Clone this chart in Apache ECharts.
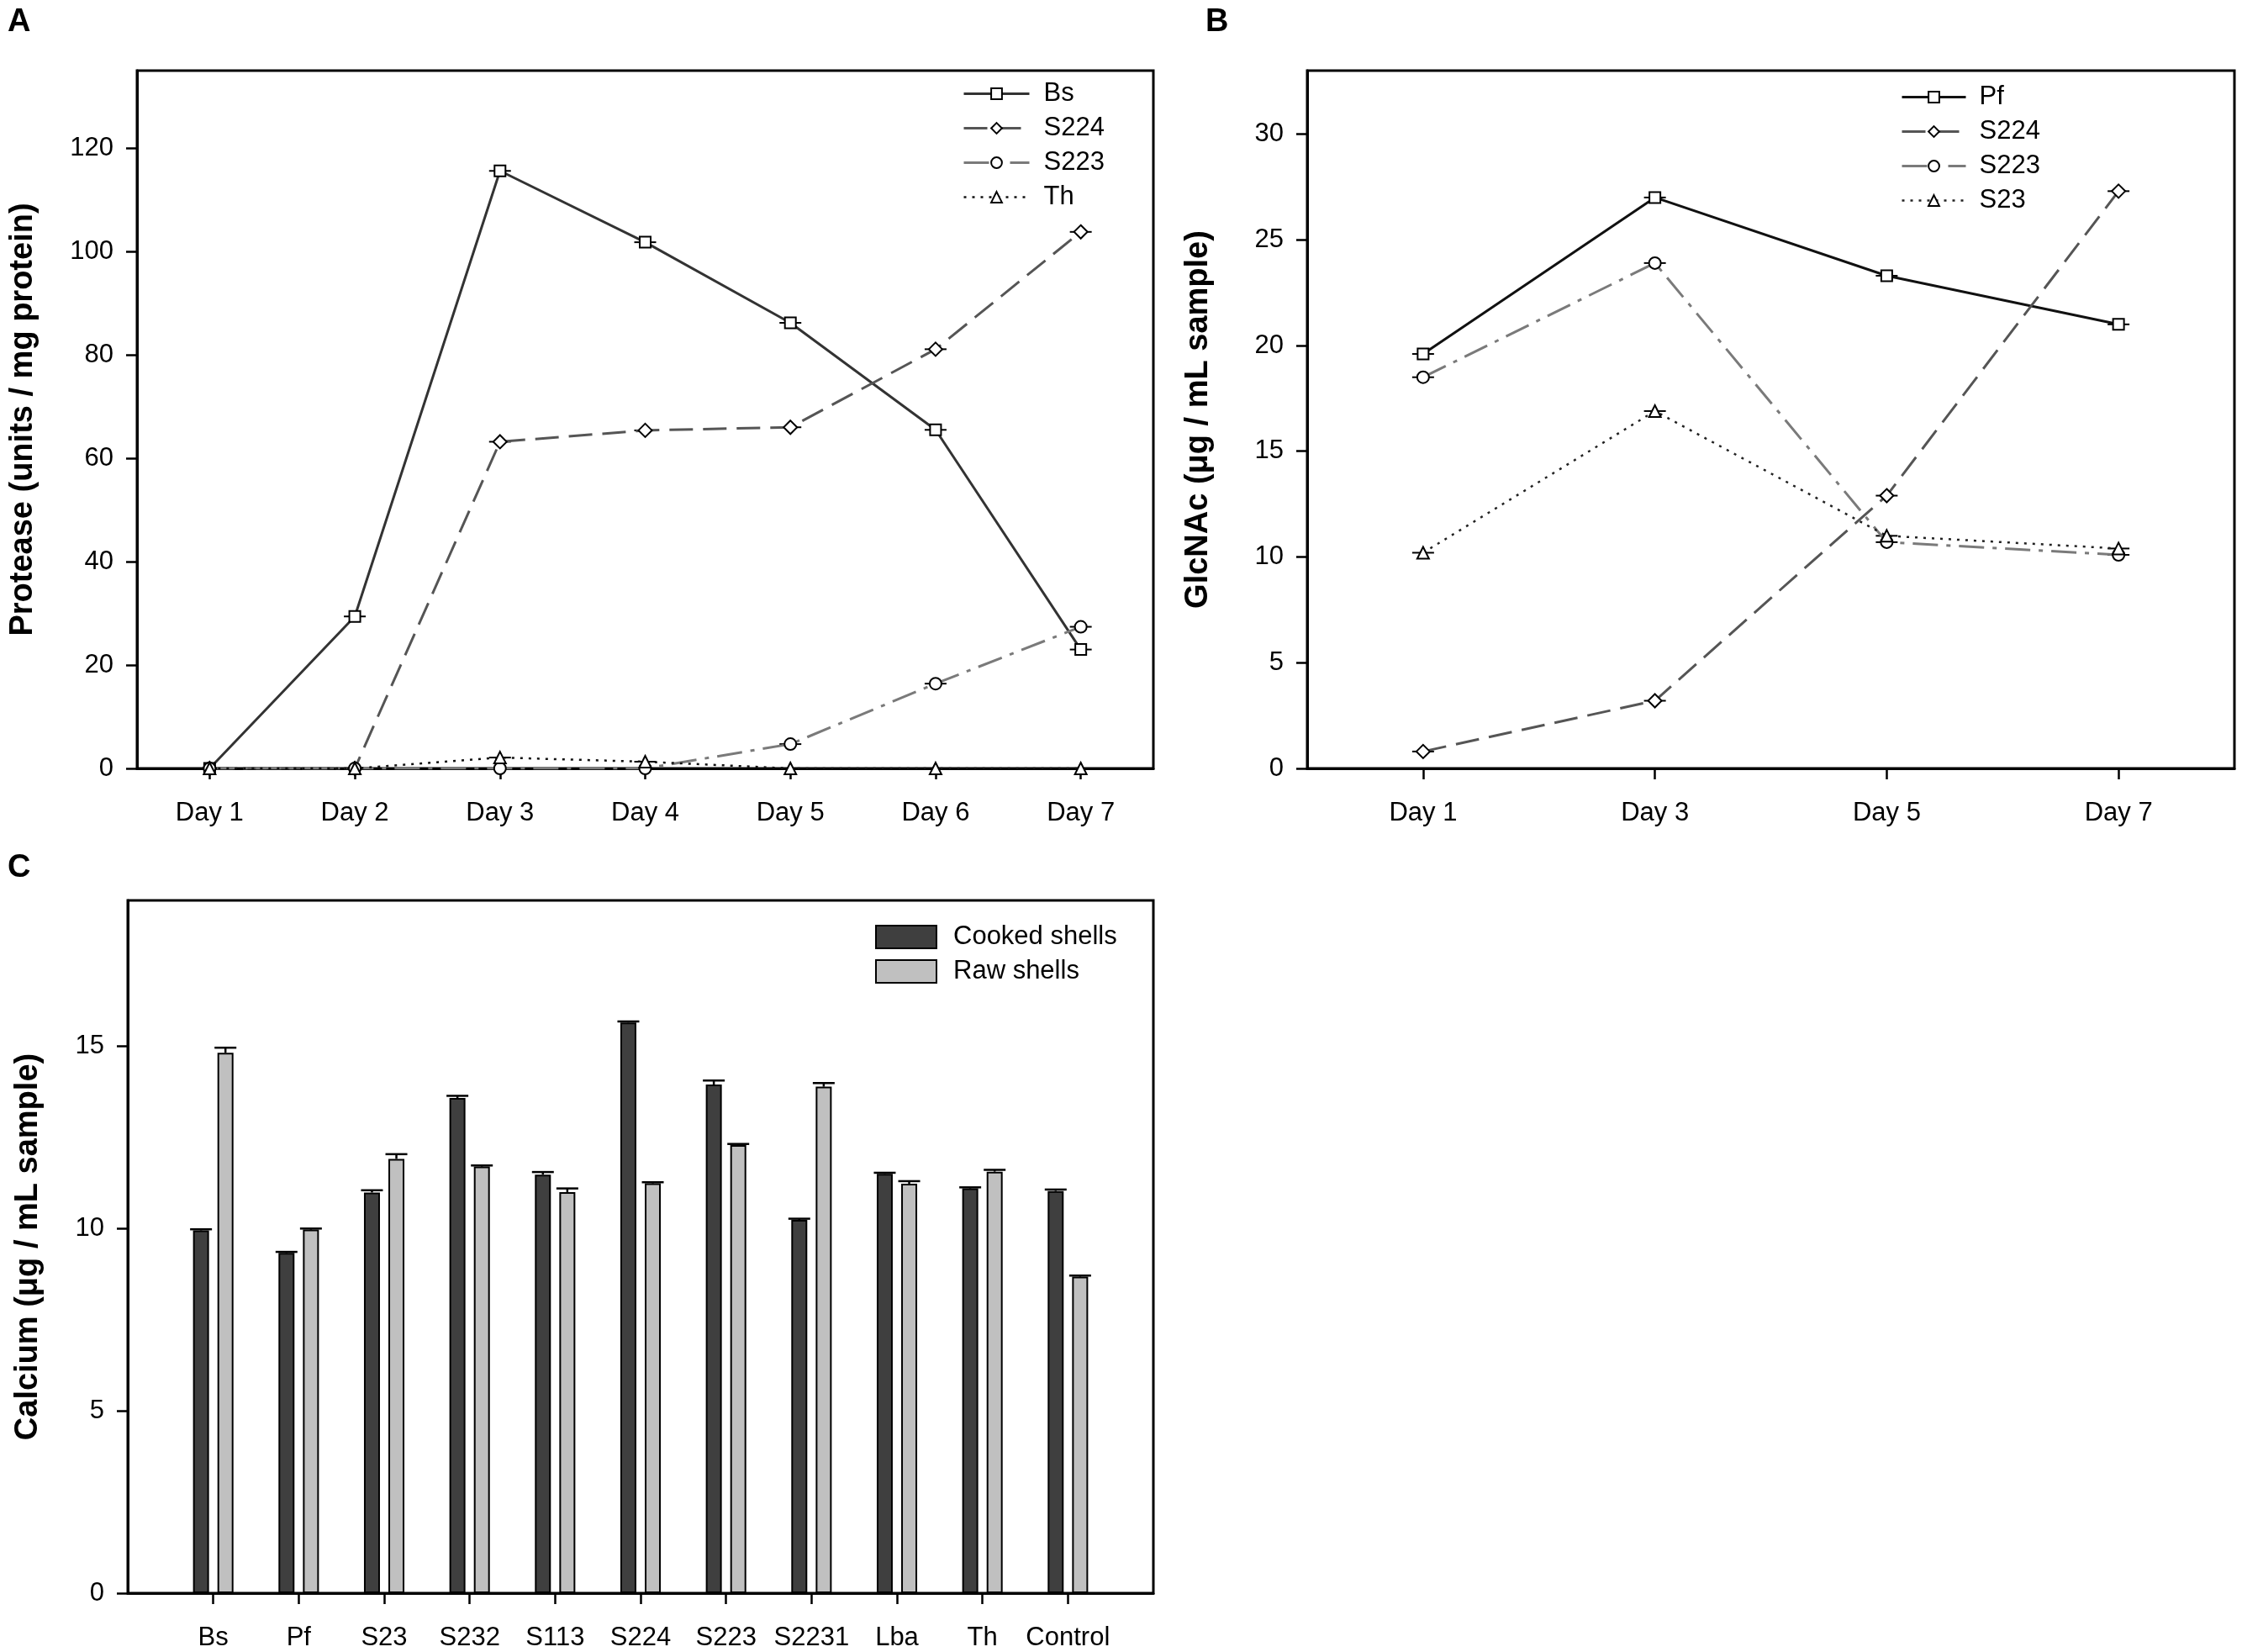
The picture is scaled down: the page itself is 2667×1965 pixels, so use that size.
<!DOCTYPE html>
<html>
<head>
<meta charset="utf-8">
<script src="https://cdn.jsdelivr.net/npm/echarts@6/dist/echarts.min.js"></script>
<style>
  html, body { margin: 0; padding: 0; background: #fff; }
  #chart { width: 2667px; height: 1965px; }
</style>
</head>
<body>
<div id="chart"></div>
<script>
// Panel A - protease activity
const daysA = ['Day 1', 'Day 2', 'Day 3', 'Day 4', 'Day 5', 'Day 6', 'Day 7'];
const proteaseBs = [0, 29.4, 115.6, 101.8, 86.2, 65.5, 23.0];
const proteaseS224 = [0, 0, 63.2, 65.4, 66.0, 81.1, 103.8];
const proteaseS223 = [0, 0, 0, 0, 4.7, 16.4, 27.4];
const proteaseTh = [0, 0, 2.1, 1.3, 0, 0, 0];
const ticksA = [0, 20, 40, 60, 80, 100, 120];

// Panel B - GlcNAc
const daysB = ['Day 1', 'Day 3', 'Day 5', 'Day 7'];
const glcPf = [19.6, 27.0, 23.3, 21.0];
const glcS224 = [0.8, 3.2, 12.9, 27.3];
const glcS223 = [18.5, 23.9, 10.7, 10.1];
const glcS23 = [10.2, 16.9, 11.0, 10.4];
const ticksB = [0, 5, 10, 15, 20, 25, 30];

// Panel C - calcium
const strains = ['Bs', 'Pf', 'S23', 'S232', 'S113', 'S224', 'S223', 'S2231', 'Lba', 'Th', 'Control'];
const cooked = [9.95, 9.33, 10.99, 13.58, 11.48, 15.65, 13.95, 10.24, 11.50, 11.10, 11.03];
const cookedErr = [0.03, 0.03, 0.06, 0.06, 0.07, 0.03, 0.11, 0.03, 0.03, 0.03, 0.04];
const raw = [14.82, 9.97, 11.91, 11.70, 11.00, 11.24, 12.29, 13.89, 11.23, 11.56, 8.68];
const rawErr = [0.14, 0.03, 0.13, 0.03, 0.10, 0.03, 0.03, 0.10, 0.07, 0.05, 0.03];
const ticksC = [0, 5, 10, 15];

const FONT = '"Liberation Sans", Arial, sans-serif';
const BAR_W = 19;
const BAR_GAP = 0.53;

// strain list padded so the first and last category sit on the frame
const catsC = [''].concat(strains, ['']);
const pad = arr => [null].concat(arr, [null]);

const axisLineStyle = { show: true, lineStyle: { color: '#000', width: 3 } };

function yAxis(gridIndex, max, ticks, name, nameGap) {
  return {
    type: 'value', gridIndex: gridIndex, min: 0, max: max,
    name: name, nameLocation: 'middle', nameGap: nameGap, nameRotate: 90,
    nameTextStyle: { fontFamily: FONT, fontSize: 38, fontWeight: 'bold', color: '#000' },
    axisLine: axisLineStyle,
    axisTick: { show: true, length: 13, lineStyle: { color: '#000', width: 2.5 }, customValues: ticks },
    axisLabel: { fontFamily: FONT, fontSize: 31, color: '#000', margin: 28, customValues: ticks },
    splitLine: { show: false }
  };
}

function xAxis(gridIndex, data) {
  return {
    type: 'category', gridIndex: gridIndex, data: data, boundaryGap: true,
    axisLine: axisLineStyle,
    axisTick: { show: true, alignWithLabel: true, length: 13, lineStyle: { color: '#000', width: 2.5 } },
    axisLabel: { fontFamily: FONT, fontSize: 31, color: '#000', margin: 38, interval: 0 },
    splitLine: { show: false }
  };
}

function lineSeries(name, data, axisIndex, symbol, size, type, color, width) {
  return {
    name: name, type: 'line', data: data,
    xAxisIndex: axisIndex, yAxisIndex: axisIndex,
    symbol: symbol, symbolSize: size, showAllSymbol: true,
    lineStyle: { color: color, width: width, type: type },
    itemStyle: { color: '#fff', borderColor: '#000', borderWidth: 2 },
    z: 3, animation: false
  };
}

// small horizontal error caps behind the markers
function capSeries(data, axisIndex) {
  return {
    type: 'custom', xAxisIndex: axisIndex, yAxisIndex: axisIndex, z: 2, silent: true,
    data: data.map((v, i) => [i, v]),
    renderItem: function (params, api) {
      const p = api.coord([api.value(0), api.value(1)]);
      return {
        type: 'line',
        shape: { x1: p[0] - 13, y1: p[1], x2: p[0] + 13, y2: p[1] },
        style: { stroke: '#000', lineWidth: 2 }
      };
    },
    animation: false
  };
}

function barCaps(values, errs, side) {
  const offset = side * BAR_W * (1 + BAR_GAP) / 2;
  return {
    type: 'custom', xAxisIndex: 2, yAxisIndex: 2, z: 4, silent: true,
    data: values.map((v, i) => [i + 1, v, errs[i]]),
    renderItem: function (params, api) {
      const top = api.coord([api.value(0), api.value(1)]);
      const capY = api.coord([api.value(0), api.value(1) + api.value(2)])[1];
      const x = top[0] + offset;
      const st = { stroke: '#000', lineWidth: 2.5 };
      return {
        type: 'group',
        children: [
          { type: 'line', shape: { x1: x, y1: top[1], x2: x, y2: capY }, style: st },
          { type: 'line', shape: { x1: x - 13, y1: capY, x2: x + 13, y2: capY }, style: st }
        ]
      };
    },
    animation: false
  };
}

const DASH = [28, 12];
const DASHDOT = [30, 10, 5, 10];
const DOT = [3, 7];

const legendText = { fontFamily: FONT, fontSize: 31, color: '#000', lineHeight: 31 };

function legendItem(name, type, color, width) {
  return { name: name, lineStyle: { type: type, color: color, width: width } };
}

const option = {
  backgroundColor: '#fff',
  animation: false,
  grid: [
    { left: 163, top: 84, width: 1209, height: 830, show: true, borderColor: '#000', borderWidth: 3, outerBoundsMode: 'none' },
    { left: 1555, top: 84, width: 1103, height: 830, show: true, borderColor: '#000', borderWidth: 3, outerBoundsMode: 'none' },
    { left: 152, top: 1071, width: 1220, height: 824, show: true, borderColor: '#000', borderWidth: 3, outerBoundsMode: 'none' }
  ],
  xAxis: [
    xAxis(0, daysA),
    xAxis(1, daysB),
    Object.assign(xAxis(2, catsC), {
      boundaryGap: false,
      axisTick: {
        show: true, length: 13, lineStyle: { color: '#000', width: 2.5 },
        interval: (i) => i > 0 && i < catsC.length - 1
      }
    })
  ],
  yAxis: [
    yAxis(0, 135, ticksA, 'Protease (units / mg protein)', 116),
    yAxis(1, 33, ticksB, 'GlcNAc (\u03bcg / mL sample)', 110),
    yAxis(2, 19, ticksC, 'Calcium (\u03bcg / mL sample)', 99)
  ],
  legend: [
    {
      data: [
        legendItem('A:Bs', 'solid', '#333', 3),
        legendItem('A:S224', DASH, '#555', 3),
        legendItem('A:S223', DASHDOT, '#7a7a7a', 3),
        legendItem('A:Th', DOT, '#111', 2.5)
      ],
      formatter: n => n.slice(2),
      orient: 'vertical', left: 1140, top: 91, itemWidth: 78, itemHeight: 16, itemGap: 10,
      textStyle: Object.assign({ padding: [0, 0, 0, 12] }, legendText),
      selectedMode: false
    },
    {
      data: [
        legendItem('B:Pf', 'solid', '#111', 3),
        legendItem('B:S224', DASH, '#555', 3),
        legendItem('B:S223', DASHDOT, '#7a7a7a', 3),
        legendItem('B:S23', DOT, '#222', 2.5)
      ],
      formatter: n => n.slice(2),
      orient: 'vertical', left: 2256, top: 95, itemWidth: 76, itemHeight: 16, itemGap: 10,
      textStyle: Object.assign({ padding: [0, 0, 0, 11] }, legendText),
      selectedMode: false
    },
    {
      data: ['Cooked shells', 'Raw shells'],
      orient: 'vertical', left: 1036, top: 1094, itemWidth: 72, itemHeight: 27, itemGap: 10,
      icon: 'rect',
      textStyle: Object.assign({ padding: [0, 0, 0, 15] }, legendText),
      selectedMode: false
    }
  ],
  graphic: [
    { type: 'text', left: 9, top: 8, style: { text: 'A', font: 'bold 38px ' + FONT, fill: '#000' } },
    { type: 'text', left: 1434, top: 8, style: { text: 'B', font: 'bold 38px ' + FONT, fill: '#000' } },
    { type: 'text', left: 9, top: 1014, style: { text: 'C', font: 'bold 38px ' + FONT, fill: '#000' } }
  ],
  series: [
    capSeries(proteaseBs, 0),
    capSeries(proteaseS224, 0),
    capSeries(proteaseS223, 0),
    capSeries(proteaseTh, 0),
    lineSeries('A:Bs', proteaseBs, 0, 'rect', 13, 'solid', '#333', 3),
    lineSeries('A:S224', proteaseS224, 0, 'diamond', 16, DASH, '#555', 3),
    lineSeries('A:S223', proteaseS223, 0, 'circle', 14, DASHDOT, '#7a7a7a', 3),
    lineSeries('A:Th', proteaseTh, 0, 'triangle', 14, DOT, '#111', 2.5),

    capSeries(glcPf, 1),
    capSeries(glcS224, 1),
    capSeries(glcS223, 1),
    capSeries(glcS23, 1),
    lineSeries('B:Pf', glcPf, 1, 'rect', 13, 'solid', '#111', 3),
    lineSeries('B:S224', glcS224, 1, 'diamond', 16, DASH, '#555', 3),
    lineSeries('B:S223', glcS223, 1, 'circle', 14, DASHDOT, '#7a7a7a', 3),
    lineSeries('B:S23', glcS23, 1, 'triangle', 14, DOT, '#222', 2.5),

    {
      name: 'Cooked shells', type: 'bar', xAxisIndex: 2, yAxisIndex: 2,
      data: pad(cooked), barWidth: BAR_W, barGap: (BAR_GAP * 100) + '%',
      itemStyle: { color: '#3f3f3f', borderColor: '#000', borderWidth: 2 },
      animation: false
    },
    {
      name: 'Raw shells', type: 'bar', xAxisIndex: 2, yAxisIndex: 2,
      data: pad(raw), barWidth: BAR_W, barGap: (BAR_GAP * 100) + '%',
      itemStyle: { color: '#c0c0c0', borderColor: '#000', borderWidth: 2 },
      animation: false
    },
    barCaps(cooked, cookedErr, -1),
    barCaps(raw, rawErr, 1)
  ]
};

const chart = echarts.init(document.getElementById('chart'), null, { renderer: 'canvas' });
chart.setOption(option);
</script>
</body>
</html>
